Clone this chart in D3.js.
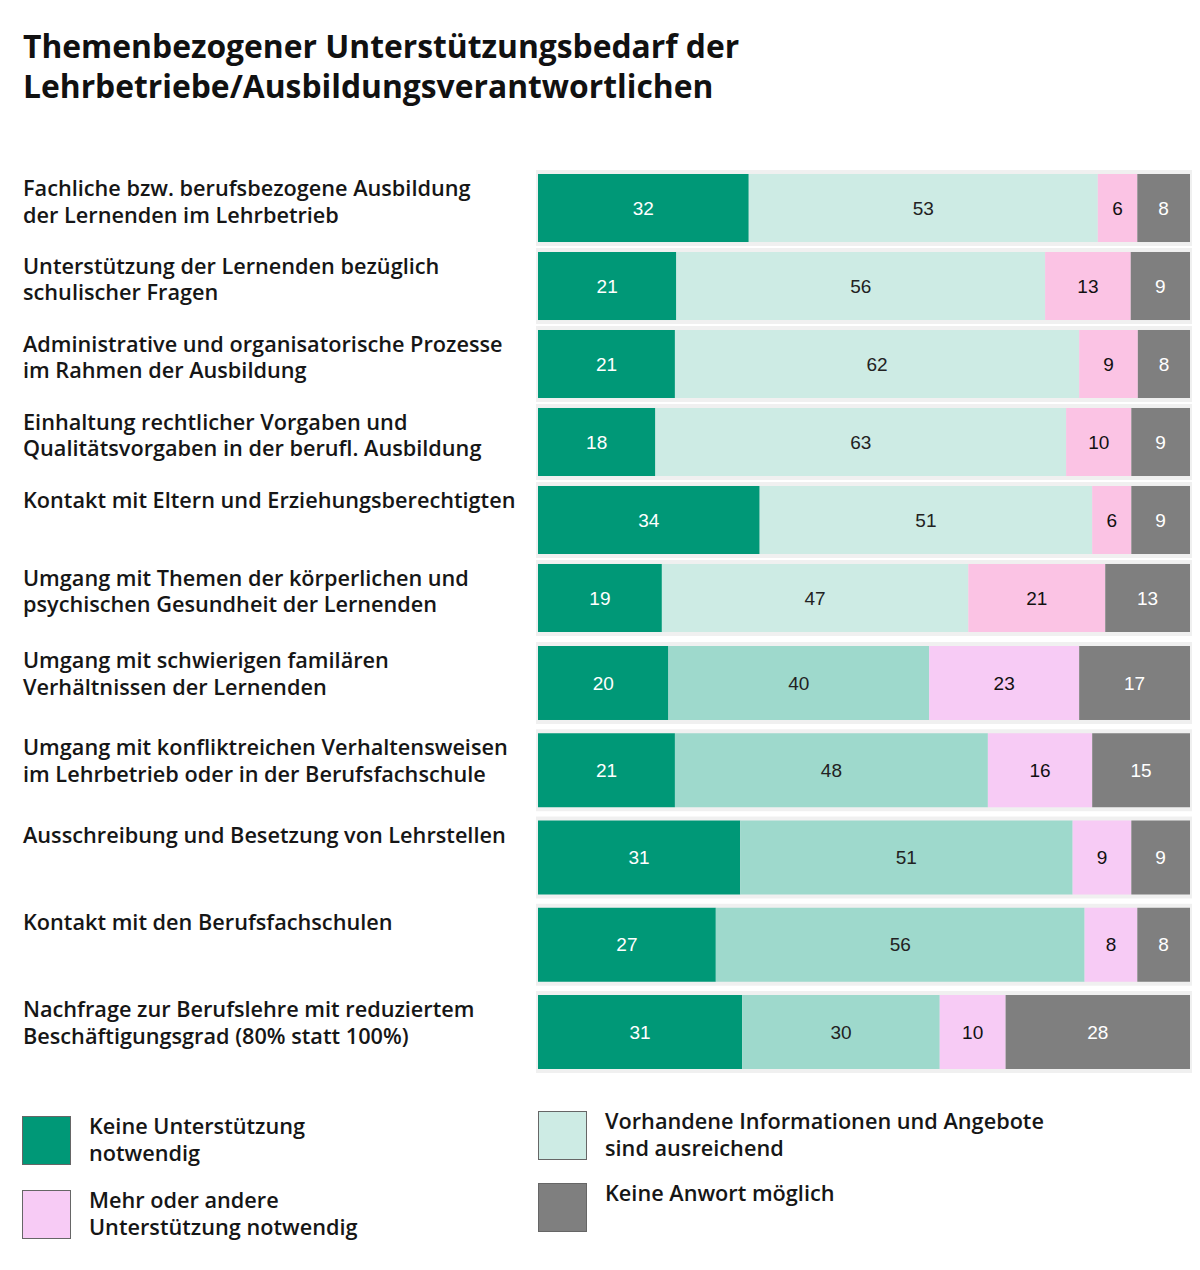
<!DOCTYPE html>
<html>
<head>
<meta charset="utf-8">
<script src="https://cdn.jsdelivr.net/npm/d3@7"></script>
<style>
  body { margin: 0; background: #fff; }
  svg { display: block; }
  .title { font-family: "Open Sans", sans-serif; font-weight: 700; font-size: 31.8px; fill: #111; }
  .label { font-family: "Open Sans", sans-serif; font-weight: 600; font-size: 21.7px; fill: #161616; }
  .val { font-family: "Liberation Sans", Arial, sans-serif; font-size: 19px; }
</style>
</head>
<body>
<svg id="chart" width="1200" height="1270"></svg>
<script>
var topics = [
    ['Fachliche bzw. berufsbezogene Ausbildung', 'der Lernenden im Lehrbetrieb'],
    ['Unterstützung der Lernenden bezüglich', 'schulischer Fragen'],
    ['Administrative und organisatorische Prozesse', 'im Rahmen der Ausbildung'],
    ['Einhaltung rechtlicher Vorgaben und', 'Qualitätsvorgaben in der berufl. Ausbildung'],
    ['Kontakt mit Eltern und Erziehungsberechtigten'],
    ['Umgang mit Themen der körperlichen und', 'psychischen Gesundheit der Lernenden'],
    ['Umgang mit schwierigen familären', 'Verhältnissen der Lernenden'],
    ['Umgang mit konfliktreichen Verhaltensweisen', 'im Lehrbetrieb oder in der Berufsfachschule'],
    ['Ausschreibung und Besetzung von Lehrstellen'],
    ['Kontakt mit den Berufsfachschulen'],
    ['Nachfrage zur Berufslehre mit reduziertem', 'Beschäftigungsgrad (80% statt 100%)']
];

var keineNoetig   = [32, 21, 21, 18, 34, 19, 20, 21, 31, 27, 31];
var ausreichend   = [53, 56, 62, 63, 51, 47, 40, 48, 51, 56, 30];
var mehrNoetig    = [ 6, 13,  9, 10,  6, 21, 23, 16,  9,  8, 10];
var keineAntwort  = [ 8,  9,  8,  9,  9, 13, 17, 15,  9,  8, 28];

var seriesNames = [
    ['Keine Unterstützung', 'notwendig'],
    ['Vorhandene Informationen und Angebote', 'sind ausreichend'],
    ['Mehr oder andere', 'Unterstützung notwendig'],
    ['Keine Anwort möglich']
];

// the source pasted two blocks of bars with slightly different tints
var colorsA = ['#009877', '#cdebe4', '#fbc3e4', '#7f7f7f'],
    colorsB = ['#009877', '#9ed9cc', '#f7cbf5', '#7f7f7f'],
    textColors = ['#fff', '#222', '#111', '#fff'],
    legendColors = ['#009877', '#cdebe4', '#f7cbf5', '#7f7f7f'],
    splitAt = 6;

var svg = d3.select('#chart');

svg.append('text').attr('class', 'title')
    .selectAll('tspan')
    .data(['Themenbezogener Unterstützungsbedarf der', 'Lehrbetriebe/Ausbildungsverantwortlichen'])
    .enter().append('tspan')
    .attr('x', 23)
    .attr('y', function(d, i){ return 58 + i * 40; })
    .text(function(d){ return d; });

var rows = d3.range(topics.length).map(function(i){
    return [keineNoetig[i], ausreichend[i], mehrNoetig[i], keineAntwort[i]];
});

var yA = d3.scaleBand().domain(d3.range(0, splitAt)).range([174, 632]).paddingInner(0.128),
    yB = d3.scaleBand().domain(d3.range(splitAt, topics.length)).range([646, 1069]).paddingInner(0.152);

function yOf(i){ return i < splitAt ? yA(i) : yB(i); }
function hOf(i){ return i < splitAt ? yA.bandwidth() : yB.bandwidth(); }

var x0 = 538, x1 = 1190;

var row = svg.selectAll('g.row')
    .data(rows)
    .enter().append('g')
    .attr('class', 'row')
    .attr('transform', function(d, i){ return 'translate(0,' + yOf(i) + ')'; });

row.append('rect')
    .attr('x', x0 - 2).attr('y', -4)
    .attr('width', x1 - x0 + 4)
    .attr('height', function(d, i){ return hOf(i) + 8; })
    .attr('fill', '#f0f0f0');

row.each(function(vals, i){
    var g = d3.select(this),
        total = d3.sum(vals),
        x = d3.scaleLinear().domain([0, total]).range([x0, x1]),
        cum = d3.cumsum(vals),
        h = hOf(i),
        pal = i < splitAt ? colorsA : colorsB;

    var seg = g.selectAll('g.seg')
        .data(vals)
        .enter().append('g').attr('class', 'seg');

    seg.append('rect')
        .attr('x', function(d, j){ return x(cum[j] - d); })
        .attr('width', function(d){ return x(d) - x(0); })
        .attr('height', h)
        .attr('fill', function(d, j){ return pal[j]; });

    seg.append('text')
        .attr('class', 'val')
        .attr('x', function(d, j){ return x(cum[j] - d / 2); })
        .attr('y', h / 2)
        .attr('dy', '0.35em')
        .attr('text-anchor', 'middle')
        .attr('fill', function(d, j){ return textColors[j]; })
        .text(function(d){ return d; });
});

svg.selectAll('text.label')
    .data(topics)
    .enter().append('text')
    .attr('class', 'label')
    .each(function(lines, i){
        d3.select(this).selectAll('tspan')
            .data(lines)
            .enter().append('tspan')
            .attr('x', 23)
            .attr('y', function(d, k){ return yOf(i) + 22 + k * 26.5; })
            .text(function(d){ return d; });
    });

// legend: two columns, two entries each
var legendPos = [[22, 1116], [538, 1111], [22, 1190], [538, 1183]];

var leg = svg.selectAll('g.legend')
    .data(seriesNames)
    .enter().append('g')
    .attr('class', 'legend')
    .attr('transform', function(d, i){ return 'translate(' + legendPos[i][0] + ',' + legendPos[i][1] + ')'; });

leg.append('rect')
    .attr('x', 0.5).attr('y', 0.5)
    .attr('width', 48).attr('height', 48)
    .attr('fill', function(d, i){ return legendColors[i]; })
    .attr('stroke', '#666')
    .attr('stroke-width', 1);

leg.append('text')
    .attr('class', 'label')
    .each(function(lines){
        d3.select(this).selectAll('tspan')
            .data(lines)
            .enter().append('tspan')
            .attr('x', 67)
            .attr('y', function(d, k){ return 18 + k * 26.5; })
            .text(function(d){ return d; });
    });
</script>
</body>
</html>
